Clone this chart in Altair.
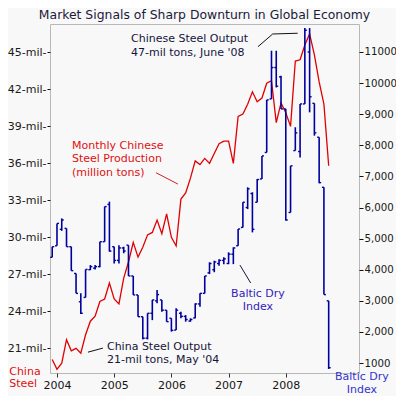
import altair as alt
import pandas as pd

# ---------------- data ----------------
months = [
    "2003-12",
    "2004-01", "2004-02", "2004-03", "2004-04", "2004-05", "2004-06",
    "2004-07", "2004-08", "2004-09", "2004-10", "2004-11", "2004-12",
    "2005-01", "2005-02", "2005-03", "2005-04", "2005-05", "2005-06",
    "2005-07", "2005-08", "2005-09", "2005-10", "2005-11", "2005-12",
    "2006-01", "2006-02", "2006-03", "2006-04", "2006-05", "2006-06",
    "2006-07", "2006-08", "2006-09", "2006-10", "2006-11", "2006-12",
    "2007-01", "2007-02", "2007-03", "2007-04", "2007-05", "2007-06",
    "2007-07", "2007-08", "2007-09", "2007-10", "2007-11", "2007-12",
    "2008-01", "2008-02", "2008-03", "2008-04", "2008-05", "2008-06",
    "2008-07", "2008-08", "2008-09", "2008-10",
]

# Monthly Chinese steel production (million tons)
steel = [
    20.1,
    19.3, 19.8, 21.7, 20.8, 21.0, 20.6, 22.1, 23.2, 23.6, 24.8, 25.0, 26.3,
    25.0, 24.6, 26.7, 28.0, 29.6, 28.4, 29.2, 30.2, 30.4, 31.4, 30.3, 31.9,
    30.0, 29.3, 33.1, 33.6, 34.8, 36.2, 35.9, 36.4, 36.0, 36.8, 37.6, 37.8,
    37.8, 36.0, 39.8, 40.0, 40.8, 41.8, 41.0, 41.3, 42.5, 42.7, 39.3, 40.9,
    40.1, 39.0, 44.3, 44.4, 45.6, 46.5, 44.8, 42.6, 40.8, 35.8,
]

# Baltic Dry Index, monthly bars
bdi_high = [
    4740,
    5490, 5650, 5330, 4740, 3880, 3240, 4010, 4150, 4150, 4900, 6030, 6190,
    4740, 4790, 4740, 4790, 3800, 3190, 2490, 2600, 3030, 3350, 3030, 2700,
    2440, 2760, 2650, 2540, 2440, 2920, 3240, 3800, 4240, 4290, 4340, 4400,
    4560, 4720, 5310, 6170, 6650, 6490, 6920, 7660, 9460, 11040, 11040, 10240,
    9170, 7340, 8580, 9330, 11770, 11770, 9350, 8260, 6650, 3000,
]
bdi_low = [
    4400,
    4770, 5250, 4740, 3970, 3240, 2580, 3110, 3990, 4010, 4080, 4900, 4580,
    4200, 4200, 4530, 3800, 3190, 2490, 1760, 1760, 2380, 2920, 2650, 2330,
    2010, 2060, 2440, 2330, 2330, 2440, 2810, 3240, 3860, 3920, 4130, 4180,
    4180, 4180, 4770, 5360, 5950, 5200, 6170, 6920, 7770, 9490, 9860, 9170,
    5580, 5840, 7830, 7610, 9330, 9060, 8310, 6780, 3200, 810,
]
bdi_open = [
    4400,
    4770, 5300, 5330, 4740, 3880, 2970, 3110, 4000, 4050, 4100, 4900, 6100,
    4740, 4300, 4700, 4790, 3800, 3190, 2490, 1800, 2600, 3000, 3030, 2700,
    2440, 2060, 2600, 2500, 2350, 2450, 2900, 3240, 3900, 4000, 4200, 4300,
    4200, 4500, 4770, 5360, 6000, 6450, 6170, 6920, 7770, 9490, 10500, 10200,
    9170, 5840, 7830, 7800, 9330, 11000, 9350, 8260, 6650, 3000,
]
bdi_close = [
    4740,
    5490, 5600, 4740, 3970, 3240, 2600, 4010, 4100, 4100, 4900, 6030, 4600,
    4300, 4700, 4600, 3800, 3190, 2490, 1800, 2600, 3030, 3200, 2700, 2330,
    2050, 2700, 2500, 2400, 2400, 2900, 3240, 3800, 4200, 4250, 4300, 4350,
    4500, 4700, 5310, 6170, 6600, 5300, 6900, 7660, 9460, 10500, 9900, 9170,
    5600, 7340, 8400, 9330, 11700, 9560, 8400, 6800, 3200, 850,
]

left_ticks = [21, 24, 27, 30, 33, 36, 39, 42, 45]
right_ticks = [1000, 2000, 3000, 4000, 5000, 6000, 7000, 8000, 9000, 10000, 11000]
year_ticks = [2004, 2005, 2006, 2007, 2008]

title_text = "Market Signals of Sharp Downturn in Global Economy"

# annotation texts (x in years, y in million tons on the left scale)
ann_left_text = ["Chinese Steel Output", "47-mil tons, June '08",
                 "Monthly Chinese", "Steel Production", "(million tons)",
                 "China Steel Output", "21-mil tons, May '04",
                 "China", "Steel"]
ann_left_x = [2005.294, 2005.294, 2004.262, 2004.262, 2004.262,
              2004.874, 2004.874, 2003.165, 2003.165]
ann_left_y = [46.08, 44.95, 37.43, 36.33, 35.24, 21.10, 20.05, 19.08, 18.10]
ann_left_col = ["#15153a", "#15153a", "#dd1111", "#dd1111", "#dd1111",
                "#15153a", "#15153a", "#dd1111", "#dd1111"]

ann_center_text = ["Baltic Dry", "Index", "Baltic Dry", "Index"]
ann_center_x = [2007.514, 2007.514, 2009.33, 2009.33]
ann_center_y = [25.40, 24.35, 18.67, 17.62]
ann_center_col = ["#3322bb", "#3322bb", "#3333cc", "#3333cc"]

# leader lines
lead_grp = ["a", "a", "a", "b", "b", "c", "c", "d", "d"]
lead_x = [2007.514, 2007.771, 2008.208, 2005.731, 2006.115,
          2004.542, 2004.804, 2007.199, 2007.386]
lead_y = [45.46, 46.49, 46.55, 35.24, 34.32, 20.69, 21.02, 27.75, 26.30]
lead_col = ["#111111", "#111111", "#111111", "#cc2222", "#cc2222",
            "#111111", "#111111", "#151540", "#151540"]

# ---------------- tables ----------------
t = [int(m[:4]) + (int(m[5:]) - 1) / 12 for m in months]
df = pd.DataFrame({
    "t": t, "steel": steel,
    "high": bdi_high, "low": bdi_low, "open": bdi_open, "close": bdi_close,
})
TK = 0.035
df["t_l"] = df["t"] - TK
df["t_r"] = df["t"] + TK

ann_l = pd.DataFrame({"text": ann_left_text, "x": ann_left_x, "y": ann_left_y, "c": ann_left_col})
ann_c = pd.DataFrame({"text": ann_center_text, "x": ann_center_x, "y": ann_center_y, "c": ann_center_col})
lead = pd.DataFrame({"g": lead_grp, "x": lead_x, "y": lead_y, "c": lead_col,
                     "o": list(range(len(lead_x)))})

FONT = "DejaVu Sans"
xscale = alt.Scale(domain=[2003.878, 2009.28], nice=False, zero=False)
lscale = alt.Scale(domain=[19, 47.3], nice=False, zero=False)
rscale = alt.Scale(domain=[680, 11900], nice=False, zero=False)

xaxis = alt.Axis(values=year_ticks, format="d", title=None, labelFontSize=11,
                 tickSize=4, labelPadding=2, labelColor="#141414", tickColor="#333333",
                 labelOverlap=False)
laxis = alt.Axis(values=left_ticks, title=None, orient="left",
                 labelExpr="datum.value + '-mil-'", labelFontSize=11,
                 tickSize=3, labelPadding=1, labelColor="#1a1a1a", tickColor="#111111",
                 labelOverlap=False)
raxis = alt.Axis(values=right_ticks, title=None, orient="right",
                 labelExpr="(datum.value >= 10000 || datum.value < 1500) ? format(datum.value, 'd') : format(datum.value, ',')",
                 labelFontSize=10.2, tickSize=4, labelPadding=1,
                 labelColor="#1a1a1a", tickColor="#111111", labelOverlap=False)


def X(field):
    return alt.X(field, scale=xscale, axis=xaxis)


def YL(field):
    return alt.Y(field, scale=lscale, axis=laxis)


def YR(field):
    return alt.Y(field, scale=rscale, axis=raxis)


base = alt.Chart(df)

red_line = base.mark_line(color="#e00000", strokeWidth=1.3).encode(
    x=X("t:Q"), y=YL("steel:Q"),
)

leaders = alt.Chart(lead).mark_line(strokeWidth=1).encode(
    x=X("x:Q"), y=YL("y:Q"), detail="g:N", order="o:Q",
    color=alt.Color("c:N", scale=None),
)

text_l = alt.Chart(ann_l).mark_text(align="left", baseline="middle", font=FONT, fontSize=11).encode(
    x=X("x:Q"), y=YL("y:Q"), text="text:N", color=alt.Color("c:N", scale=None),
)
text_c = alt.Chart(ann_c).mark_text(align="center", baseline="middle", font=FONT, fontSize=11).encode(
    x=X("x:Q"), y=YL("y:Q"), text="text:N", color=alt.Color("c:N", scale=None),
)

left_group = alt.layer(red_line, leaders, text_l, text_c)

BLUE = "#0000a0"
bars = base.mark_rule(color=BLUE, strokeWidth=1.6).encode(
    x=X("t:Q"), y=YR("high:Q"), y2="low:Q",
)
open_t = base.mark_rule(color=BLUE, strokeWidth=1.4).encode(
    x=X("t_l:Q"), x2="t:Q", y=YR("open:Q"),
)
close_t = base.mark_rule(color=BLUE, strokeWidth=1.4).encode(
    x=X("t:Q"), x2="t_r:Q", y=YR("close:Q"),
)
right_group = alt.layer(bars, open_t, close_t)

chart = alt.layer(left_group, right_group).resolve_scale(y="independent").properties(
    width=309,
    height=349,
    title=alt.TitleParams(title_text, fontSize=12.4, font=FONT, fontWeight="normal",
                          color="#1a1a3a", offset=3, anchor="middle"),
    padding={"left": 42, "top": 16, "right": 37, "bottom": 23},
    autosize=alt.AutoSizeParams(type="none"),
    background="#f8f8f8",
).configure_view(
    stroke="#b8b8b8", strokeWidth=1, fill="#f8f8f8",
).configure_axis(
    labelFont=FONT, domain=False, grid=False,
).configure_text(font=FONT)

chart.save("out.html", embed_options={"renderer": "svg", "actions": False})
